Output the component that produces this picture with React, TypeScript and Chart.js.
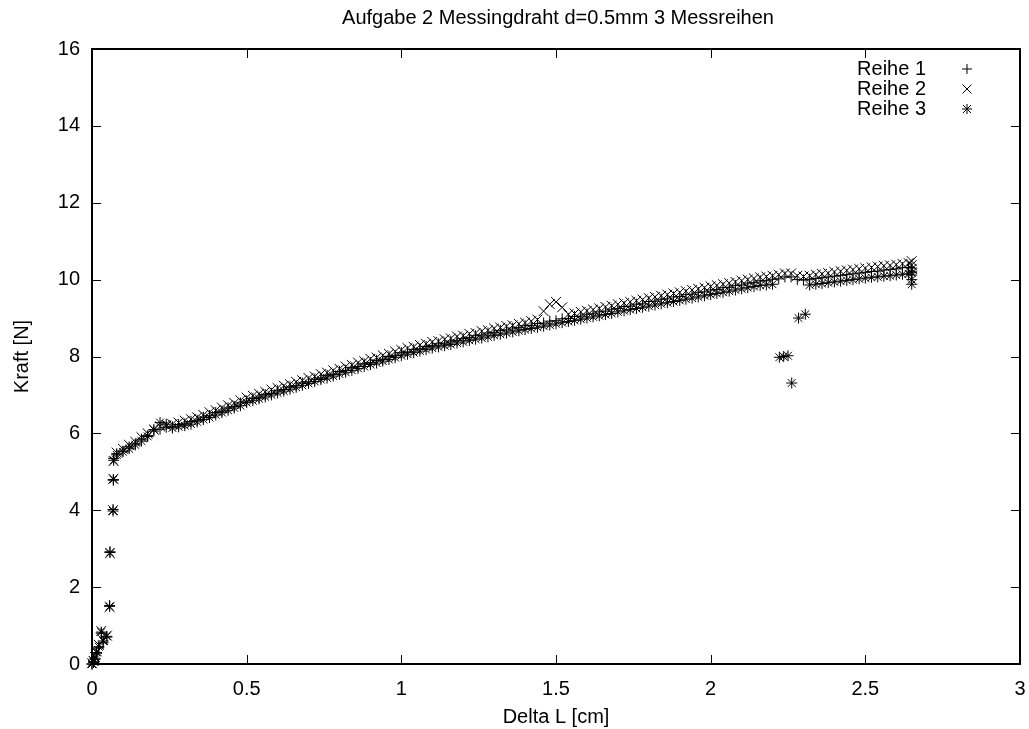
import React, { useEffect, useRef } from 'react';
import { Chart, registerables } from 'chart.js';

Chart.register(...registerables);

const FONT_FAMILY = '"Liberation Sans", Arial, Helvetica, sans-serif';
const FONT_SIZE = 20;

const chartTitle = 'Aufgabe 2 Messingdraht d=0.5mm 3 Messreihen';
const xAxisTitle = 'Delta L [cm]';
const yAxisTitle = 'Kraft [N]';
const seriesNames = ['Reihe 1', 'Reihe 2', 'Reihe 3'];

const xTickValues = [0, 0.5, 1, 1.5, 2, 2.5, 3];
const yTickValues = [0, 2, 4, 6, 8, 10, 12, 14, 16];

// steep start of the measurement
const riseDeltaL = [0, 0.005, 0.01, 0.015, 0.022, 0.03, 0.036, 0.048, 0.057, 0.058, 0.068, 0.069, 0.07];
const reihe1Rise = [0, 0.04, 0.12, 0.28, 0.42, 0.8, 0.55, 0.7, 1.52, 2.92, 4.02, 4.78, 5.35];
const reihe2Rise = [0.02, 0.08, 0.18, 0.33, 0.5, 0.86, 0.62, 0.74, 1.48, 2.88, 4.0, 4.82, 5.28];
const reihe3Rise = [0, 0.06, 0.15, 0.3, 0.45, 0.83, 0.6, 0.72, 1.5, 2.9, 3.98, 4.8, 5.3];

// main (plastic) part
const deltaL = [
  0.08, 0.10, 0.12, 0.14, 0.16, 0.18, 0.20, 0.22, 0.24, 0.26,
  0.28, 0.30, 0.32, 0.34, 0.36, 0.38, 0.40, 0.42, 0.44, 0.46,
  0.48, 0.50, 0.52, 0.54, 0.56, 0.58, 0.60, 0.62, 0.64, 0.66,
  0.68, 0.70, 0.72, 0.74, 0.76, 0.78, 0.80, 0.82, 0.84, 0.86,
  0.88, 0.90, 0.92, 0.94, 0.96, 0.98, 1.00, 1.02, 1.04, 1.06,
  1.08, 1.10, 1.12, 1.14, 1.16, 1.18, 1.20, 1.22, 1.24, 1.26,
  1.28, 1.30, 1.32, 1.34, 1.36, 1.38, 1.40, 1.42, 1.44, 1.46,
  1.48, 1.50, 1.52, 1.54, 1.56, 1.58, 1.60, 1.62, 1.64, 1.66,
  1.68, 1.70, 1.72, 1.74, 1.76, 1.78, 1.80, 1.82, 1.84, 1.86,
  1.88, 1.90, 1.92, 1.94, 1.96, 1.98, 2.00, 2.02, 2.04, 2.06,
  2.08, 2.10, 2.12, 2.14, 2.16, 2.18, 2.20, 2.22, 2.24, 2.26,
  2.28, 2.30, 2.32, 2.34, 2.36, 2.38, 2.40, 2.42, 2.44, 2.46,
  2.48, 2.50, 2.52, 2.54, 2.56, 2.58, 2.60, 2.62, 2.64,
];

const reihe1 = [
  5.47, 5.54, 5.65, 5.73, 5.85, 5.94, 6.06, 6.11, 6.16, 6.17,
  6.23, 6.25, 6.31, 6.34, 6.42, 6.46, 6.54, 6.58, 6.66, 6.70,
  6.79, 6.84, 6.91, 6.94, 7.01, 7.04, 7.11, 7.14, 7.21, 7.24,
  7.31, 7.34, 7.41, 7.44, 7.51, 7.54, 7.61, 7.64, 7.71, 7.74,
  7.81, 7.84, 7.90, 7.93, 8.00, 8.03, 8.10, 8.12, 8.18, 8.20,
  8.26, 8.28, 8.33, 8.35, 8.40, 8.42, 8.47, 8.49, 8.54, 8.56,
  8.61, 8.63, 8.68, 8.69, 8.74, 8.75, 8.80, 8.81, 8.86, 8.87,
  8.92, 8.93, 8.98, 8.99, 9.04, 9.05, 9.10, 9.11, 9.16, 9.18,
  9.23, 9.25, 9.30, 9.31, 9.36, 9.37, 9.43, 9.44, 9.49, 9.50,
  9.55, 9.56, 9.61, 9.62, 9.67, 9.68, 9.73, 9.74, 9.79, 9.80,
  9.85, 9.86, 9.91, 9.92, 9.97, 9.97, 10.01, 10.02, 10.07, 10.07,
  10.00, 9.99, 10.01, 10.03, 10.05, 10.07, 10.09, 10.11, 10.13, 10.15,
  10.17, 10.19, 10.21, 10.22, 10.25, 10.26, 10.28, 10.31, 10.32,
];

const reihe2 = [
  5.50, 5.60, 5.70, 5.78, 5.90, 6.00, 6.10, 6.18, 6.20, 6.24,
  6.28, 6.33, 6.37, 6.42, 6.48, 6.55, 6.60, 6.67, 6.73, 6.79,
  6.86, 6.93, 6.98, 7.03, 7.08, 7.14, 7.18, 7.24, 7.28, 7.34,
  7.38, 7.44, 7.48, 7.54, 7.58, 7.64, 7.68, 7.74, 7.78, 7.84,
  7.88, 7.94, 7.97, 8.03, 8.07, 8.13, 8.17, 8.22, 8.25, 8.30,
  8.33, 8.38, 8.40, 8.45, 8.47, 8.52, 8.54, 8.59, 8.61, 8.66,
  8.68, 8.73, 8.75, 8.79, 8.81, 8.85, 8.88, 8.92, 8.96, 9.18,
  9.36, 9.42, 9.28, 9.10, 9.12, 9.16, 9.19, 9.22, 9.25, 9.29,
  9.32, 9.36, 9.39, 9.42, 9.45, 9.48, 9.52, 9.55, 9.58, 9.61,
  9.64, 9.67, 9.70, 9.73, 9.76, 9.79, 9.82, 9.85, 9.88, 9.91,
  9.94, 9.97, 10.00, 10.03, 10.06, 10.08, 10.10, 10.13, 10.16, 10.16,
  10.10, 10.08, 10.10, 10.13, 10.15, 10.17, 10.20, 10.22, 10.24, 10.26,
  10.28, 10.30, 10.32, 10.34, 10.36, 10.37, 10.39, 10.41, 10.43,
];

const reihe3 = [
  5.44, 5.52, 5.60, 5.70, 5.80, 5.92, 6.10, 6.28, 6.24, 6.14,
  6.17, 6.20, 6.24, 6.30, 6.36, 6.41, 6.48, 6.54, 6.60, 6.66,
  6.72, 6.80, 6.85, 6.90, 6.95, 7.00, 7.05, 7.10, 7.15, 7.20,
  7.25, 7.30, 7.35, 7.40, 7.44, 7.49, 7.54, 7.59, 7.64, 7.69,
  7.74, 7.79, 7.83, 7.88, 7.92, 7.97, 8.02, 8.06, 8.10, 8.14,
  8.18, 8.22, 8.25, 8.28, 8.31, 8.35, 8.38, 8.42, 8.45, 8.48,
  8.51, 8.55, 8.58, 8.61, 8.64, 8.67, 8.70, 8.73, 8.76, 8.79,
  8.82, 8.85, 8.88, 8.91, 8.94, 8.97, 9.00, 9.03, 9.06, 9.09,
  9.12, 9.16, 9.19, 9.22, 9.25, 9.28, 9.31, 9.34, 9.37, 9.40,
  9.43, 9.46, 9.49, 9.52, 9.55, 9.58, 9.61, 9.64, 9.67, 9.70,
  9.73, 9.76, 9.79, 9.82, 9.85, 9.86, 9.88, null, null, null,
  null, null, 9.86, 9.88, 9.90, 9.92, 9.94, 9.96, 9.98, 10.00,
  10.02, 10.04, 10.06, 10.07, 10.09, 10.10, 10.12, 10.14, 10.15,
];

// slip of series 3 around 2.25 cm
const reihe3SlipDeltaL = [2.222, 2.236, 2.25, 2.262, 2.284, 2.306];
const reihe3Slip = [7.98, 8.0, 8.02, 7.31, 9.0, 9.1];

// last readings at the end of the wire test
const endDeltaL = [2.65, 2.65, 2.65];
const reihe1End = [10.3, 10.22, 10.12];
const reihe2End = [10.48, 10.38, 10.28];
const reihe3End = [9.88, 10.0, 10.18];

function toPoints(xs: number[], ys: (number | null)[]) {
  const out: { x: number; y: number }[] = [];
  xs.forEach((x, i) => {
    const y = ys[i];
    if (y !== null && y !== undefined) out.push({ x, y });
  });
  return out;
}

const framePlugin = {
  id: 'gnuplotFrame',
  afterDraw(chart: any) {
    const { ctx, chartArea: ca, scales } = chart;
    const font = `${FONT_SIZE}px ${FONT_FAMILY}`;
    ctx.save();
    ctx.strokeStyle = '#000';
    ctx.lineWidth = 1;
    ctx.beginPath();
    for (const v of xTickValues) {
      const px = Math.round(scales.x.getPixelForValue(v)) + 0.5;
      ctx.moveTo(px, ca.bottom);
      ctx.lineTo(px, ca.bottom - 9);
      ctx.moveTo(px, ca.top);
      ctx.lineTo(px, ca.top + 9);
    }
    for (const v of yTickValues) {
      const py = Math.round(scales.y.getPixelForValue(v)) + 0.5;
      ctx.moveTo(ca.left, py);
      ctx.lineTo(ca.left + 9, py);
      ctx.moveTo(ca.right, py);
      ctx.lineTo(ca.right - 9, py);
    }
    ctx.stroke();
    ctx.lineWidth = 2;
    ctx.strokeRect(ca.left, ca.top, ca.right - ca.left, ca.bottom - ca.top);

    // texts
    ctx.fillStyle = '#000';
    ctx.font = font;
    ctx.textAlign = 'center';
    ctx.textBaseline = 'middle';
    const cx = (ca.left + ca.right) / 2;
    ctx.fillText(chartTitle, cx + 2, 18);
    ctx.fillText(xAxisTitle, cx, 717);
    ctx.save();
    ctx.translate(22, (ca.top + ca.bottom) / 2);
    ctx.rotate(-Math.PI / 2);
    ctx.fillText(yAxisTitle, 0, 0);
    ctx.restore();

    // legend
    ctx.textAlign = 'right';
    const sx = 967;
    seriesNames.forEach((name, i) => {
      const y = 69 + i * 20;
      ctx.fillText(name, 926, y);
      ctx.lineWidth = 1;
      ctx.beginPath();
      if (i === 0 || i === 2) {
        ctx.moveTo(sx - 5, y);
        ctx.lineTo(sx + 5, y);
        ctx.moveTo(sx, y - 5);
        ctx.lineTo(sx, y + 5);
      }
      if (i === 1 || i === 2) {
        const d = i === 1 ? 4.5 : 4;
        ctx.moveTo(sx - d, y - d);
        ctx.lineTo(sx + d, y + d);
        ctx.moveTo(sx - d, y + d);
        ctx.lineTo(sx + d, y - d);
      }
      ctx.stroke();
    });
    ctx.restore();
  },
};

export default function App() {
  const canvasRef = useRef<HTMLCanvasElement | null>(null);

  useEffect(() => {
    const canvas = canvasRef.current;
    if (!canvas) return;
    const tickFont = { family: FONT_FAMILY, size: FONT_SIZE };
    const common = {
      showLine: false,
      borderColor: '#000',
      backgroundColor: 'rgba(0,0,0,0)',
      borderWidth: 1,
      pointBorderWidth: 1,
      clip: false as const,
    };
    const chart = new Chart(canvas, {
      type: 'scatter',
      data: {
        datasets: [
          {
            ...common,
            label: seriesNames[0],
            order: 2,
            pointStyle: 'cross',
            pointRadius: 5.5,
            data: [
              ...toPoints(riseDeltaL, reihe1Rise),
              ...toPoints(deltaL, reihe1),
              ...toPoints(endDeltaL, reihe1End),
            ],
          },
          {
            ...common,
            label: seriesNames[1],
            order: 1,
            pointStyle: 'crossRot',
            pointRadius: 7,
            data: [
              ...toPoints(riseDeltaL, reihe2Rise),
              ...toPoints(deltaL, reihe2),
              ...toPoints(endDeltaL, reihe2End),
            ],
          },
          {
            ...common,
            label: seriesNames[2],
            order: 0,
            pointStyle: 'star',
            pointRadius: 5.5,
            data: [
              ...toPoints(riseDeltaL, reihe3Rise),
              ...toPoints(deltaL, reihe3),
              ...toPoints(reihe3SlipDeltaL, reihe3Slip),
              ...toPoints(endDeltaL, reihe3End),
            ],
          },
        ],
      },
      options: {
        animation: false,
        responsive: false,
        maintainAspectRatio: false,
        events: [],
        layout: { padding: { top: 49, right: 9, left: 0, bottom: 0 } },
        plugins: {
          legend: { display: false },
          title: { display: false },
          tooltip: { enabled: false },
        },
        scales: {
          x: {
            type: 'linear',
            min: 0,
            max: 3,
            afterFit: (s: any) => {
              s.height = 65;
              s.paddingLeft = 0;
              s.paddingRight = 0;
            },
            afterBuildTicks: (s: any) => {
              s.ticks = xTickValues.map((v) => ({ value: v }));
            },
            ticks: {
              color: '#000',
              font: tickFont,
              padding: 13,
              maxRotation: 0,
              autoSkip: false,
              callback: (v: any) => String(v),
            },
            grid: { display: false, drawTicks: false },
            border: { display: false },
          },
          y: {
            type: 'linear',
            min: 0,
            max: 16,
            afterFit: (s: any) => {
              s.width = 92;
              s.paddingTop = 0;
              s.paddingBottom = 0;
            },
            afterBuildTicks: (s: any) => {
              s.ticks = yTickValues.map((v) => ({ value: v }));
            },
            ticks: {
              color: '#000',
              font: tickFont,
              padding: 12,
              autoSkip: false,
              callback: (v: any) => String(v),
            },
            grid: { display: false, drawTicks: false },
            border: { display: false },
          },
        },
      },
      plugins: [framePlugin],
    });
    return () => chart.destroy();
  }, []);

  return (
    <div style={{ position: 'absolute', left: 0, top: 0, width: 1029, height: 729, background: '#fff' }}>
      <canvas ref={canvasRef} width={1029} height={729} style={{ display: 'block' }} />
    </div>
  );
}
